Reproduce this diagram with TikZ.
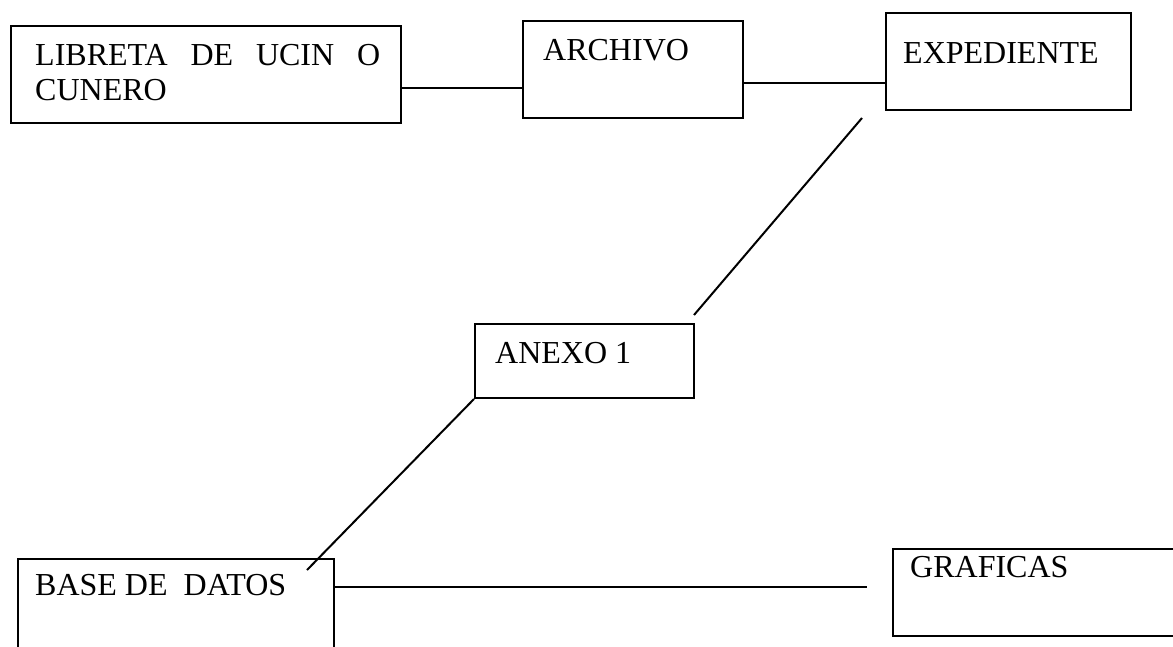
\documentclass[tikz,border=0pt]{standalone}
\usepackage{fontspec}
\setmainfont{Liberation Serif}
\usetikzlibrary{calc}
\begin{document}
\begin{tikzpicture}[x=1pt,y=-1pt,
  box/.style={draw, line width=2pt, inner sep=0pt, anchor=north west},
  lbl/.style={anchor=base west, inner sep=0pt, font=\fontsize{32}{35}\selectfont},
  link/.style={line width=2pt}]
\useasboundingbox (0,0) rectangle (1173,646);
\clip (0,0) rectangle (1173,646);
% boxes
\node[box, minimum width=390pt, minimum height=97pt] (lib) at (10,25) {};
\node[box, minimum width=220pt, minimum height=97pt] (arch) at (522,20) {};
\node[box, minimum width=245pt, minimum height=97pt] (exp) at (885,12) {};
\node[box, minimum width=219pt, minimum height=74pt] (anx) at (474,323) {};
\node[box, minimum width=316pt, minimum height=110pt] (base) at (17,558) {};
\node[box, minimum width=320pt, minimum height=87pt] (graf) at (892,548) {};
% labels
\node[lbl] (lib1) at (35,65) {\makebox[345pt][s]{LIBRETA DE UCIN O}};
\node[lbl] (lib2) at (35,100) {CUNERO};
\node[lbl] (archt) at (543,60) {ARCHIVO};
\node[lbl] (expt) at (903,63) {EXPEDIENTE};
\node[lbl] (anxt) at (495,363) {ANEXO 1};
\node[lbl] (baset) at (35,595) {BASE DE~~DATOS};
\node[lbl] (graft) at (910,577) {GRAFICAS};
% connectors
\coordinate (c1) at ([yshift=-63pt]lib.north east);
\draw[link] (c1) -- (c1 -| arch.west);
\coordinate (c2) at ([yshift=-63pt]arch.north east);
\draw[link] (c2) -- (c2 -| exp.west);
\draw[link] ($(exp.south west)+(-23,7)$) -- ($(anx.north east)+(-1,-8)$);
\draw[link] (anx.south west) -- ($(base.north east)+(-28,12)$);
\coordinate (c3) at ([yshift=-29pt]base.north east);
\coordinate (c4) at ([xshift=-25pt]c3 -| graf.west);
\draw[link] (c3) -- (c4);
\end{tikzpicture}
\end{document}
